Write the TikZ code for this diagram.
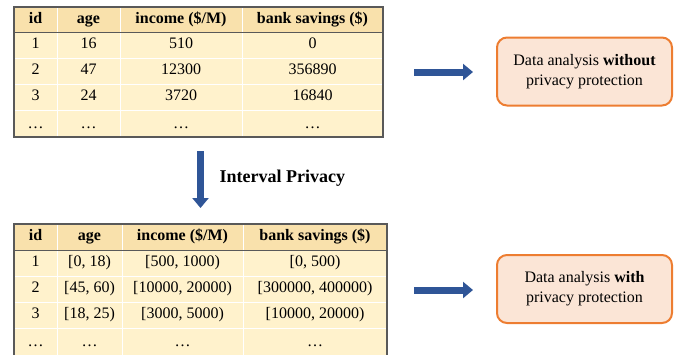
\documentclass[tikz,border=0pt]{standalone}
\usepackage{fontspec}
\setmainfont{Liberation Serif}
\usetikzlibrary{arrows.meta, positioning}
\definecolor{headfill}{HTML}{F9E1AC}
\definecolor{cellfill}{HTML}{FFF2CC}
\definecolor{boxfill}{HTML}{FBE5D6}
\definecolor{boxline}{HTML}{ED7D31}
\definecolor{arrowblue}{HTML}{2F5597}
\definecolor{tableline}{HTML}{595959}

\begin{document}
\begin{tikzpicture}[x=1pt, y=-1pt,
    every node/.style={font=\rmfamily\fontsize{16}{20}\selectfont},
    cell/.style={inner sep=0pt, text height=11pt, text depth=4pt},
    headcell/.style={cell, font=\rmfamily\fontsize{16}{20}\selectfont\bfseries},
    resultbox/.style={draw=boxline, line width=2pt, fill=boxfill, rounded corners=10pt,
        minimum width=175pt, minimum height=68pt, align=center},
    blockarrow/.style={arrowblue, line width=7pt, -{Triangle[length=10pt, width=16pt]}}]
    \clip (0,0) rectangle (676,354);
    % Raw table
    \fill[cellfill] (14,7) rectangle (383,137);
    \fill[headfill] (14,7) rectangle (383,32);
    \foreach \y in {58,84,110} {
        \draw[white, line width=1pt] (14,\y) -- (383,\y);
    }
    \foreach \x in {57,120,242} {
        \draw[white, line width=1pt] (\x,7) -- (\x,137);
    }
    \draw[tableline, line width=0.8pt] (14,32) -- (383,32);
    \draw[tableline, line width=1.5pt] (14,7) rectangle (383,137);
    \node[headcell] (raw-h1) at (35.5,19.5) {id};
    \node[headcell] (raw-h2) at (88.5,19.5) {age};
    \node[headcell] (raw-h3) at (181,19.5) {income (\$/M)};
    \node[headcell] (raw-h4) at (312.5,19.5) {bank savings (\$)};
    \foreach \y/\va/\vb/\vc/\vd [count=\r] in {45/1/16/510/0, 71/2/47/12300/356890,
            97/3/24/3720/16840, 125/…/…/…/…} {
        \node[cell] (raw-\r-1) at (35.5,\y) {\va};
        \node[cell] (raw-\r-2) at (88.5,\y) {\vb};
        \node[cell] (raw-\r-3) at (181,\y) {\vc};
        \node[cell] (raw-\r-4) at (312.5,\y) {\vd};
    }
    % Interval table
    \fill[cellfill] (14,224) rectangle (387,360);
    \fill[headfill] (14,224) rectangle (387,250);
    \foreach \y in {276,302,328} {
        \draw[white, line width=1pt] (14,\y) -- (387,\y);
    }
    \foreach \x in {57,122,243} {
        \draw[white, line width=1pt] (\x,224) -- (\x,360);
    }
    \draw[tableline, line width=0.8pt] (14,250) -- (387,250);
    \draw[tableline, line width=1.5pt] (14,360) -- (14,224) -- (387,224) -- (387,360);
    \node[headcell] (int-h1) at (35.5,237) {id};
    \node[headcell] (int-h2) at (89.5,237) {age};
    \node[headcell] (int-h3) at (182.5,237) {income (\$/M)};
    \node[headcell] (int-h4) at (315,237) {bank savings (\$)};
    \foreach \y/\va/\vb/\vc/\vd [count=\r] in {263/1/{[0, 18)}/{[500, 1000)}/{[0, 500)},
            289/2/{[45, 60)}/{[10000, 20000)}/{[300000, 400000)},
            315/3/{[18, 25)}/{[3000, 5000)}/{[10000, 20000)}, 343/…/…/…/…} {
        \node[cell] (int-\r-1) at (35.5,\y) {\va};
        \node[cell] (int-\r-2) at (89.5,\y) {\vb};
        \node[cell] (int-\r-3) at (182.5,\y) {\vc};
        \node[cell] (int-\r-4) at (315,\y) {\vd};
    }
    % Analysis boxes
    \node[resultbox] (rawbox) at (584.5,71.5) {Data analysis \textbf{without}\\privacy protection};
    \node[resultbox] (intbox) at (584.5,289) {Data analysis \textbf{with}\\privacy protection};
    % Arrows
    \coordinate (rawstart) at (414,72);
    \coordinate (rawend) at (473,72);
    \coordinate (intstart) at (414,290);
    \coordinate (intend) at (473,290);
    \coordinate (downstart) at (200.5,151);
    \coordinate (downend) at (200.5,208);
    \draw[blockarrow] (rawstart) -- (rawend);
    \draw[blockarrow] (intstart) -- (intend);
    \draw[blockarrow] (downstart) -- (downend);
    \node[font=\rmfamily\fontsize{18}{22}\selectfont\bfseries, anchor=west] (privlabel) at (216,178) {Interval Privacy};
\end{tikzpicture}
\end{document}
